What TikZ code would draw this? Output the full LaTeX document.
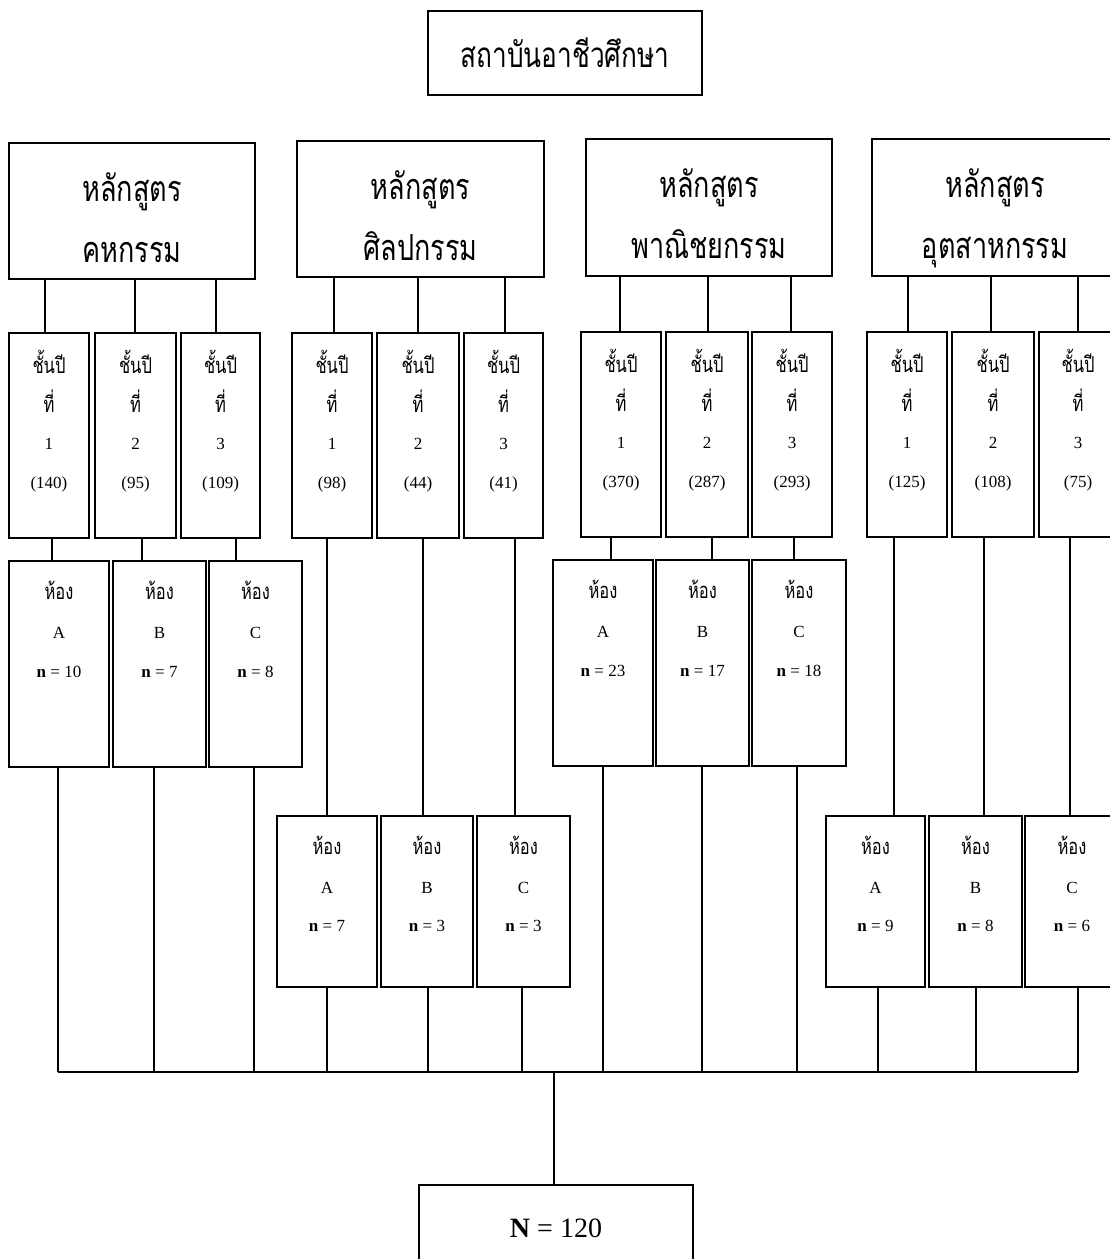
\documentclass[tikz,border=0pt]{standalone}
\usepackage{fontspec}
\setmainfont{Liberation Serif}
\newfontfamily\thaifont[Script=Thai,FakeStretch=0.75]{Loma}
\usetikzlibrary{calc}
\newcommand\thL{\thaifont\fontsize{36}{61}\selectfont}
\newcommand\thS{\thaifont\fontsize{22}{39}\selectfont}
% width, height, first baseline, baselineskip, content
\newcommand\cellbox[5]{\begin{minipage}[c][#2][t]{#1}\centering\fontsize{17}{#4}\selectfont\lineskiplimit=-100pt\rule{0pt}{#3}#5\end{minipage}}
\newcommand\yrtxt[2]{{\thS\raisebox{-2pt}{ชั้นปี}}\\{\thS\raisebox{-2pt}{ที่}}\\#1\\(#2)}
\newcommand\roomtxt[2]{{\thS ห้อง}\\#1\\\textbf{n} = #2}
\begin{document}
\begin{tikzpicture}[x=1pt,y=-1pt,
  bx/.style={draw, line width=2.2pt, inner sep=0pt, outer sep=0pt, rectangle},
  ln/.style={line width=1.8pt}]
\useasboundingbox (0,0) rectangle (1110,1259);
\clip (0,0) rectangle (1110,1259);
% top
\node[bx] (top) at (565,53) {\cellbox{274pt}{84pt}{56pt}{61pt}{\fontsize{35}{61}\thaifont สถาบันอาชีวศึกษา}};
% courses
\node[bx] (c1) at (132,211) {\cellbox{246pt}{136pt}{58pt}{61pt}{{\thL หลักสูตร}\\{\thL คหกรรม}}};
\node[bx] (c2) at (420.5,209) {\cellbox{247pt}{136pt}{58pt}{61pt}{{\thL หลักสูตร}\\{\thL ศิลปกรรม}}};
\node[bx] (c3) at (709,207.5) {\cellbox{246pt}{137pt}{58pt}{61pt}{{\thL หลักสูตร}\\{\thL พาณิชยกรรม}}};
\node[bx] (c4) at (995,207.5) {\cellbox{246pt}{137pt}{58pt}{61pt}{{\thL หลักสูตร}\\{\thL อุตสาหกรรม}}};
% years
\node[bx] (y11) at (49,435.5) {\cellbox{80pt}{205pt}{38pt}{39.3pt}{\yrtxt{1}{140}}};
\node[bx] (y12) at (135.5,435.5) {\cellbox{81pt}{205pt}{38pt}{39.3pt}{\yrtxt{2}{95}}};
\node[bx] (y13) at (220.5,435.5) {\cellbox{79pt}{205pt}{38pt}{39.3pt}{\yrtxt{3}{109}}};
\node[bx] (y21) at (332,435.5) {\cellbox{80pt}{205pt}{38pt}{39.3pt}{\yrtxt{1}{98}}};
\node[bx] (y22) at (418,435.5) {\cellbox{82pt}{205pt}{38pt}{39.3pt}{\yrtxt{2}{44}}};
\node[bx] (y23) at (503.5,435.5) {\cellbox{79pt}{205pt}{38pt}{39.3pt}{\yrtxt{3}{41}}};
\node[bx] (y31) at (621,434.5) {\cellbox{80pt}{205pt}{38pt}{39.3pt}{\yrtxt{1}{370}}};
\node[bx] (y32) at (707,434.5) {\cellbox{82pt}{205pt}{38pt}{39.3pt}{\yrtxt{2}{287}}};
\node[bx] (y33) at (792,434.5) {\cellbox{80pt}{205pt}{38pt}{39.3pt}{\yrtxt{3}{293}}};
\node[bx] (y41) at (907,434.5) {\cellbox{80pt}{205pt}{38pt}{39.3pt}{\yrtxt{1}{125}}};
\node[bx] (y42) at (993,434.5) {\cellbox{82pt}{205pt}{38pt}{39.3pt}{\yrtxt{2}{108}}};
\node[bx] (y43) at (1078,434.5) {\cellbox{78pt}{205pt}{38pt}{39.3pt}{\yrtxt{3}{75}}};
% rooms
\node[bx] (r11) at (59,664) {\cellbox{100pt}{206pt}{38.5pt}{39pt}{\roomtxt{A}{10}}};
\node[bx] (r12) at (159.5,664) {\cellbox{93pt}{206pt}{38.5pt}{39pt}{\roomtxt{B}{7}}};
\node[bx] (r13) at (255.5,664) {\cellbox{93pt}{206pt}{38.5pt}{39pt}{\roomtxt{C}{8}}};
\node[bx] (r21) at (327,901.5) {\cellbox{100pt}{171pt}{38.5pt}{38.5pt}{\roomtxt{A}{7}}};
\node[bx] (r22) at (427,901.5) {\cellbox{92pt}{171pt}{38.5pt}{38.5pt}{\roomtxt{B}{3}}};
\node[bx] (r23) at (523.5,901.5) {\cellbox{93pt}{171pt}{38.5pt}{38.5pt}{\roomtxt{C}{3}}};
\node[bx] (r31) at (603,663) {\cellbox{100pt}{206pt}{38.5pt}{39pt}{\roomtxt{A}{23}}};
\node[bx] (r32) at (702.5,663) {\cellbox{93pt}{206pt}{38.5pt}{39pt}{\roomtxt{B}{17}}};
\node[bx] (r33) at (799,663) {\cellbox{93.5pt}{206pt}{38.5pt}{39pt}{\roomtxt{C}{18}}};
\node[bx] (r41) at (875.5,901.5) {\cellbox{99pt}{171pt}{38.5pt}{38.5pt}{\roomtxt{A}{9}}};
\node[bx] (r42) at (975.5,901.5) {\cellbox{93pt}{171pt}{38.5pt}{38.5pt}{\roomtxt{B}{8}}};
\node[bx] (r43) at (1072,901.5) {\cellbox{94pt}{171pt}{38.5pt}{38.5pt}{\roomtxt{C}{6}}};
% total
\node[bx] (N) at (556,1245) {\begin{minipage}[c][120pt][t]{274pt}\centering\fontsize{28}{30}\selectfont\rule{0pt}{52pt}\textbf{N} = 120\end{minipage}};
\coordinate (bus) at (554,1072);
% course -> year
\foreach \c/\y/\s in {c1/y11/-4, c1/y12/-0.5, c1/y13/-4.5, c2/y21/2, c2/y22/0, c2/y23/1.5,
  c3/y31/-1, c3/y32/1, c3/y33/-1, c4/y41/1, c4/y42/-2, c4/y43/0}
  \draw[ln] ($(\y.north)+(\s,0)$) -- ($(\y.north |- \c.south)+(\s,0)$);
% year -> room
\foreach \y/\r/\s in {y11/r11/3, y12/r12/6.5, y13/r13/15.5, y21/r21/-5, y22/r22/5, y23/r23/11.5,
  y31/r31/-10, y32/r32/5, y33/r33/2, y41/r41/-13, y42/r42/-9, y43/r43/-8}
  \draw[ln] ($(\y.south)+(\s,0)$) -- ($(\r.north -| \y.south)+(\s,0)$);
% room -> bus
\foreach \r/\s in {r11/-1, r12/-5.5, r13/-1.5, r21/0, r22/1, r23/-1.5, r31/0, r32/-0.5, r33/-2, r41/2.5, r42/0.5, r43/6}
  \draw[ln] ($(\r.south)+(\s,0)$) -- ($(\r.south |- bus)+(\s,0)$);
\draw[ln] ($(r11.south |- bus)+(-1,0)$) -- ($(r43.south |- bus)+(6,0)$);
\draw[ln] (bus) -- ($(N.north)+(-2,0)$);
\end{tikzpicture}
\end{document}
